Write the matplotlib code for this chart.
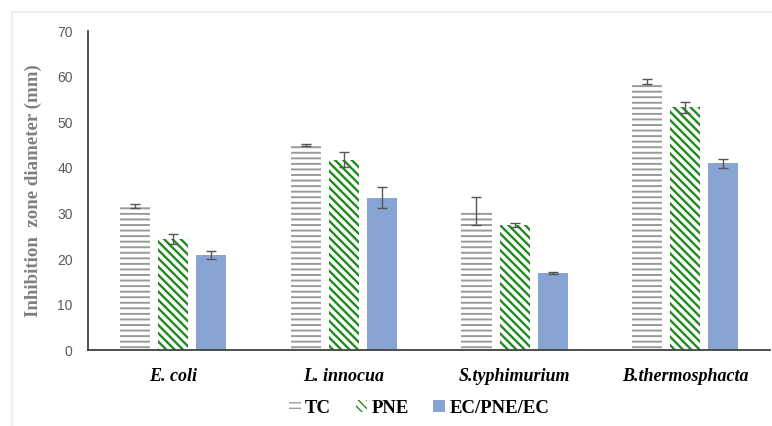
import matplotlib
matplotlib.use("Agg")
import matplotlib.pyplot as plt
import matplotlib.patches as mpatches
from matplotlib.lines import Line2D
import numpy as np

categories = ["E. coli", "L. innocua", "S.typhimurium", "B.thermosphacta"]
series_names = ["TC", "PNE", "EC/PNE/EC"]
tc_vals = [31.6, 45.0, 30.5, 58.9]
tc_err = [0.5, 0.3, 3.0, 0.6]
pne_vals = [24.4, 41.8, 27.5, 53.3]
pne_err = [1.0, 1.6, 0.4, 1.2]
ec_vals = [20.8, 33.4, 17.0, 41.0]
ec_err = [0.9, 2.3, 0.2, 1.0]
yticks = [0, 10, 20, 30, 40, 50, 60, 70]

fig = plt.figure(figsize=(7.72, 4.26), dpi=100)
ax = fig.add_axes([0.114, 0.178, 0.884, 0.749])

x = np.arange(len(categories))
w = 0.176
off = 0.223

tick_color = "#595959"
serif = ["Liberation Serif", "DejaVu Serif"]
tc_col = "#9a9a9a"
pne_col = "#1f8a1f"
ec_col = "#88a4d2"
pne_hatch = "\\\\\\\\"
pne_hlw = 1.7

with plt.rc_context({"hatch.linewidth": 1.4}):
    b1 = ax.bar(x - off, tc_vals, w, color="white", edgecolor=tc_col,
                hatch="---", linewidth=0, zorder=2)
with plt.rc_context({"hatch.linewidth": pne_hlw}):
    b2 = ax.bar(x, pne_vals, w, color="white", edgecolor=pne_col,
                hatch=pne_hatch, linewidth=0, zorder=2)
b3 = ax.bar(x + off, ec_vals, w, color=ec_col, edgecolor=ec_col,
            linewidth=0, zorder=2)

ekw = dict(fmt="none", ecolor="#555555", elinewidth=1.0, capsize=3.5, capthick=1.0, zorder=3)
ax.errorbar(x - off, tc_vals, yerr=tc_err, **ekw)
ax.errorbar(x, pne_vals, yerr=pne_err, **ekw)
ax.errorbar(x + off, ec_vals, yerr=ec_err, **ekw)

ax.set_xlim(-0.5, len(categories) - 0.5)
ax.set_ylim(0, 70)
ax.set_yticks(yticks)
ax.set_yticklabels([str(t) for t in yticks], color=tick_color, fontsize=10,
                   family=["Liberation Sans", "DejaVu Sans"])
ax.tick_params(axis="y", length=0, pad=11)
ax.set_xticks(x)
ax.set_xticklabels(categories, fontsize=13, fontweight="bold", fontstyle="italic",
                   family=serif, color="black")
ax.tick_params(axis="x", length=0, pad=13)

for s in ["top", "right"]:
    ax.spines[s].set_visible(False)
ax.spines["left"].set_color("#404040")
ax.spines["bottom"].set_color("#404040")
ax.spines["left"].set_linewidth(1.3)
ax.spines["bottom"].set_linewidth(1.3)

ax.set_ylabel("Inhibition  zone diameter (mm)", fontsize=13.6, fontweight="bold",
              family=serif, color="#7f7f7f", labelpad=11)

# faint outer frame (top and left)
fig.add_artist(Line2D([12/772, 1.0], [1 - 12/426, 1 - 12/426], transform=fig.transFigure,
                      color="#ebebeb", lw=1.2))
fig.add_artist(Line2D([12/772, 12/772], [0, 1 - 12/426], transform=fig.transFigure,
                      color="#ebebeb", lw=1.2))

with plt.rc_context({"hatch.linewidth": 1.4}):
    h1 = mpatches.Patch(facecolor="white", edgecolor=tc_col, hatch="---", linewidth=0)
with plt.rc_context({"hatch.linewidth": pne_hlw}):
    h2 = mpatches.Patch(facecolor="white", edgecolor=pne_col, hatch=pne_hatch, linewidth=0)
h3 = mpatches.Patch(facecolor=ec_col, edgecolor=ec_col, linewidth=0)
fig.legend([h1, h2, h3], series_names, loc="center", bbox_to_anchor=(0.543, 0.042),
           ncol=3, frameon=False, handlelength=0.6, handleheight=0.6, handletextpad=0.25,
           columnspacing=1.3, prop={"family": serif, "weight": "bold", "size": 13.5})

fig.savefig("out.png", dpi=100)
